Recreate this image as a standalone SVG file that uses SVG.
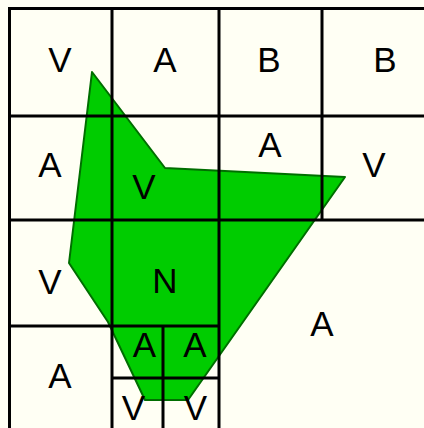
<svg xmlns="http://www.w3.org/2000/svg" width="424" height="428" viewBox="0 0 424 428">
<style>
.g{stroke:#000;stroke-width:3;fill:none}
.t{font-family:"Liberation Sans",Arial,sans-serif;font-size:35px;fill:#000;text-anchor:middle}
</style>
<rect x="0" y="0" width="424" height="428" fill="#FFFFF4"/>
<polygon id="region" points="92,72 165,168 345,177 188,400 145,400 108,322 69,263" fill="#00CC00" stroke="#006E00" stroke-width="2" stroke-linejoin="round"/>
<g id="grid" class="g">
<line x1="8" y1="8.5" x2="424" y2="8.5"/>
<line x1="8" y1="116" x2="424" y2="116"/>
<line x1="8" y1="220" x2="424" y2="220"/>
<line x1="8" y1="326" x2="219" y2="326"/>
<line x1="112" y1="378" x2="219" y2="378"/>
<line x1="9.5" y1="7" x2="9.5" y2="428"/>
<line x1="112" y1="7" x2="112" y2="428"/>
<line x1="219" y1="7" x2="219" y2="428"/>
<line x1="322" y1="7" x2="322" y2="220"/>
<line x1="163" y1="326" x2="163" y2="428"/>
</g>
<g id="labels" class="t">
<text x="60" y="72">V</text>
<text x="165" y="72">A</text>
<text x="269" y="72">B</text>
<text x="385" y="72">B</text>
<text x="50" y="177">A</text>
<text x="144" y="199">V</text>
<text x="270" y="157">A</text>
<text x="374" y="177">V</text>
<text x="50" y="294">V</text>
<text x="165" y="293">N</text>
<text x="322" y="336">A</text>
<text x="60" y="388">A</text>
<text x="144.5" y="357">A</text>
<text x="195" y="357">A</text>
<text x="133.5" y="420">V</text>
<text x="195.5" y="420">V</text>
</g>
</svg>
